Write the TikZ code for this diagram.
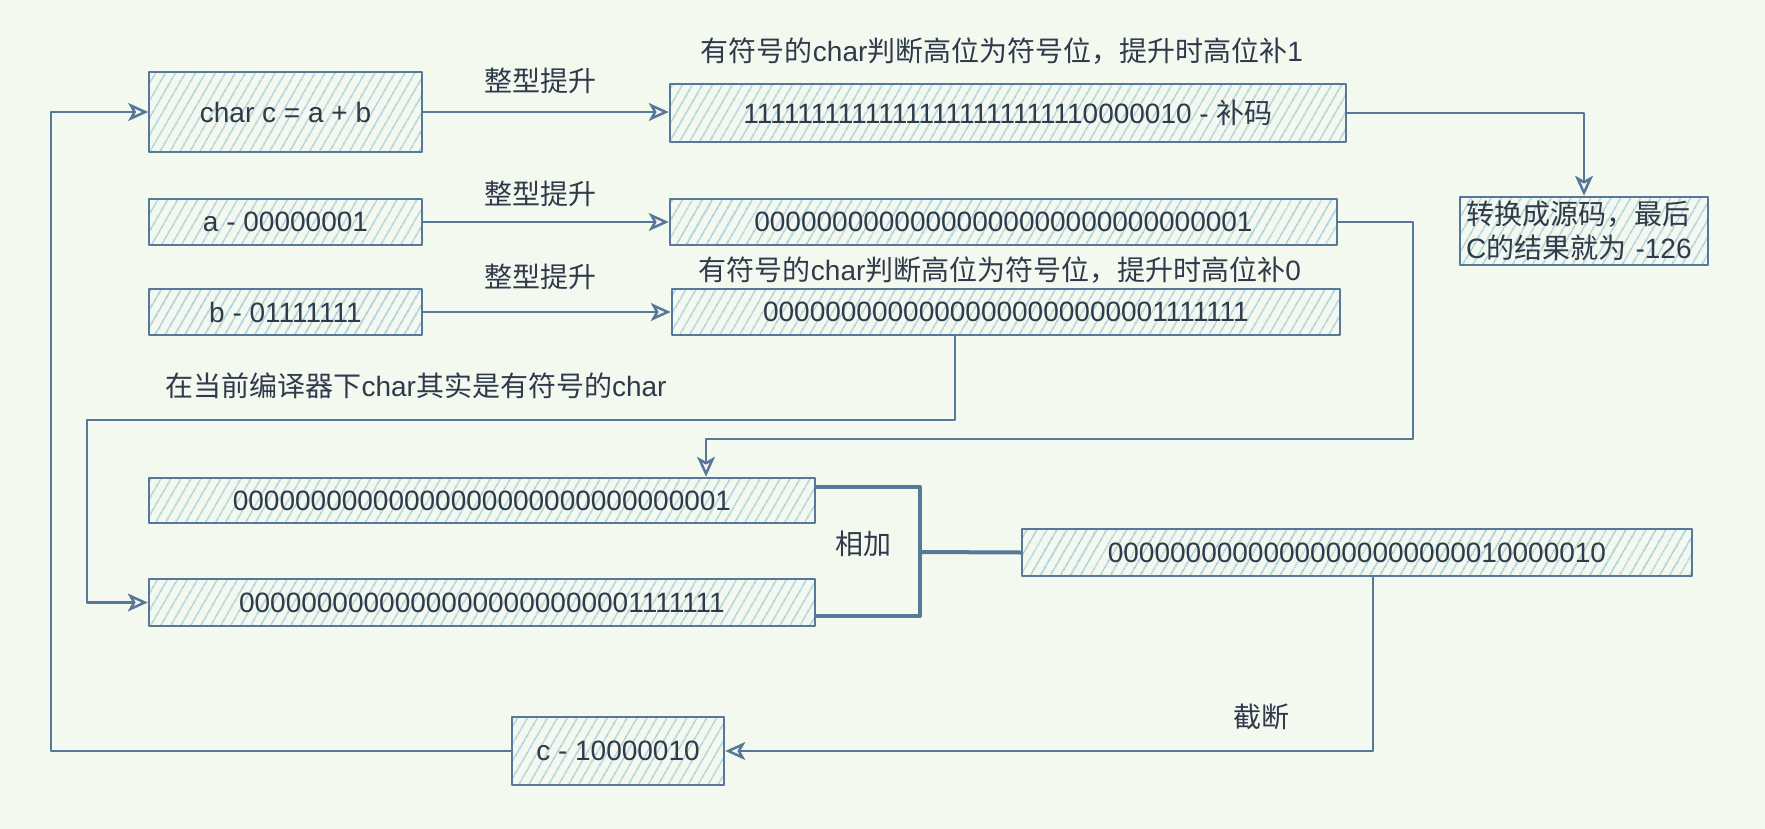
\documentclass[tikz,border=0pt]{standalone}
\usepackage{fontspec}
\setmainfont{Liberation Sans}
\newfontfamily\cjk{Noto Sans CJK SC}
\usetikzlibrary{arrows.meta,patterns.meta,calc}
\definecolor{bgc}{HTML}{F4F9F0}
\definecolor{edge}{HTML}{587899}
\definecolor{hatch}{HTML}{A8CFDA}
\definecolor{ink}{HTML}{2F3A4A}
\tikzset{
	bits/.style={draw=edge,line width=1.25pt,pattern={Lines[angle=60,distance=4pt,line width=0.8pt]},pattern color=hatch,text=ink,inner sep=0pt},
	link/.style={draw=edge,line width=1.25pt,-{Stealth[open,length=10pt,width=9pt,inset=2.5pt]}},
	bracket/.style={draw=edge,line width=2pt},
	note/.style={text=ink}
}
\begin{document}
\begin{tikzpicture}[x=0.5pt,y=-0.5pt,line join=round,font=\fontsize{14}{17}\selectfont]
		\fill[bgc] (0,0) rectangle (1765,829);
		\useasboundingbox (0,0) rectangle (1765,829);
		% left column
		\node[bits,minimum width=136.5pt,minimum height=40pt] (charc) at (285.5,112) {char c = a + b};
		\node[bits,minimum width=136.5pt,minimum height=23pt] (a) at (285.5,222) {a - 00000001};
		\node[bits,minimum width=136.5pt,minimum height=23pt] (b) at (285.5,312) {b - 01111111};
		% promoted values
		\node[bits,minimum width=338pt,minimum height=29pt] (bu1) at (1008,113) {11111111111111111111111110000010 - {\cjk 补码}};
		\node[bits,minimum width=333.5pt,minimum height=23pt] (pa) at (1003.5,222) {00000000000000000000000000000001};
		\node[bits,minimum width=334pt,minimum height=23pt] (pb) at (1006,312) {00000000000000000000000001111111};
		\node[bits,minimum width=124pt,minimum height=34pt,inner xsep=3pt,inner ysep=1pt,text width=118pt,align=left] (yuan) at (1584,231) {{\cjk 转换成源码，最后}\\C{\cjk 的结果就为} -126};
		% addition
		\node[bits,minimum width=333pt,minimum height=22.5pt] (sa) at (482,500.5) {00000000000000000000000000000001};
		\node[bits,minimum width=333pt,minimum height=23.5pt] (sb) at (482,602.5) {00000000000000000000000001111111};
		\node[bits,minimum width=335pt,minimum height=23.5pt] (sum) at (1357,552.5) {00000000000000000000000010000010};
		\node[bits,minimum width=106pt,minimum height=34pt] (c) at (618,751) {c - 10000010};
		\coordinate (addr) at (920,552);
		% texts
		\node[note] (t1) at (540,81) {\cjk 整型提升};
		\node[note] (t2) at (540,194) {\cjk 整型提升};
		\node[note] (t3) at (540,277) {\cjk 整型提升};
		\node[note] (s1) at (1002,51) {{\cjk 有符号的}char{\cjk 判断高位为符号位，提升时高位补}1};
		\node[note] (s0) at (1000,270) {{\cjk 有符号的}char{\cjk 判断高位为符号位，提升时高位补}0};
		\node[note] (cmp) at (416,386) {{\cjk 在当前编译器下}char{\cjk 其实是有符号的}char};
		\node[note] (add) at (863,544) {\cjk 相加};
		\node[note] (cut) at (1261,717) {\cjk 截断};
		% connectors
		\draw[link] (charc.east) -- (charc.east -| bu1.west);
		\draw[link] (a.east) -- (pa.west);
		\draw[link] (b.east) -- (pb.west);
		\draw[link] (bu1.east) -| (yuan.north);
		\draw[link] (pa.east) -| (1413,439) -| (706,0 |- sa.north);
		\draw[link] (955,0 |- pb.south) |- (87,420) |- (sb.west);
		\draw[bracket] ($(sa.east)+(0,-14)$) -| (addr) |- ($(sb.east)+(0,13.5)$);
		\draw[bracket] (addr) -- (sum.west);
		\draw[link] (1373,0 |- sum.south) |- (c.east);
		\draw[link] (c.west) -| (51,300) |- (charc.west);
	\end{tikzpicture}
\end{document}
